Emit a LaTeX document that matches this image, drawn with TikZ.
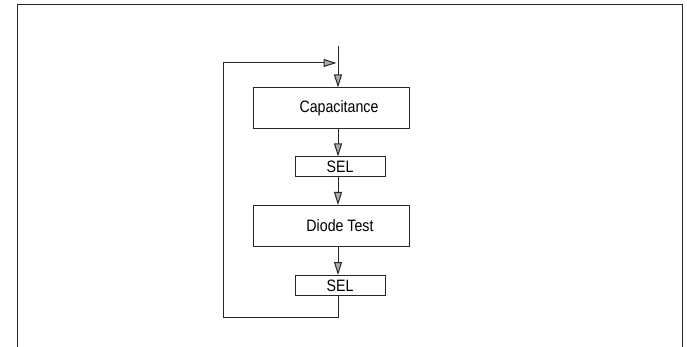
\documentclass[tikz,border=0pt]{standalone}
\usepackage{fontspec}
\setmainfont{Liberation Sans}[FakeStretch=0.86]
\usetikzlibrary{arrows.meta}
\begin{document}
\begin{tikzpicture}[x=1pt,y=-1pt,
  ln/.style={draw=black!85,line width=1pt},
  txt/.style={font=\fontsize{16.5}{18}\selectfont},
  flowarrow/.style={ln,-{Triangle[length=13pt,width=8pt,fill=gray!65]}},
  bigbox/.style={ln,rectangle,minimum width=156pt,minimum height=41pt,inner sep=0pt},
  selbox/.style={ln,rectangle,minimum width=90pt,minimum height=20pt,inner sep=0pt,txt}]
\useasboundingbox (0,0) rectangle (687,347);
% frame
\draw[ln] (17,347) -- (17,5) -- (682,5) -- (682,347);
% nodes
\coordinate (top) at (338,46);
\coordinate (join) at (338,63);
\node[bigbox] (cap) at (331,108.5) {};
\node[txt] (captxt) at (339,108.5) {Capacitance};
\node[selbox] (sel1) at (340,167) {SEL};
\node[bigbox] (diode) at (331,226) {};
\node[txt] (diodetxt) at (340,226) {Diode Test};
\node[selbox] (sel2) at (340,285.5) {SEL};
\coordinate (lb) at (338,317);
\coordinate (ll) at (223,317);
\coordinate (lt) at (223,63);
% connectors
\draw[ln] (top) -- (join);
\draw[flowarrow] (join) -- (join |- cap.north);
\draw[flowarrow] (join |- cap.south) -- (join |- sel1.north);
\draw[flowarrow] (join |- sel1.south) -- (join |- diode.north);
\draw[flowarrow] (join |- diode.south) -- (join |- sel2.north);
\draw[ln] (join |- sel2.south) -- (lb) -- (ll) -- (lt);
\draw[flowarrow] (lt) -- ([xshift=-1.5pt]join);
\end{tikzpicture}
\end{document}
